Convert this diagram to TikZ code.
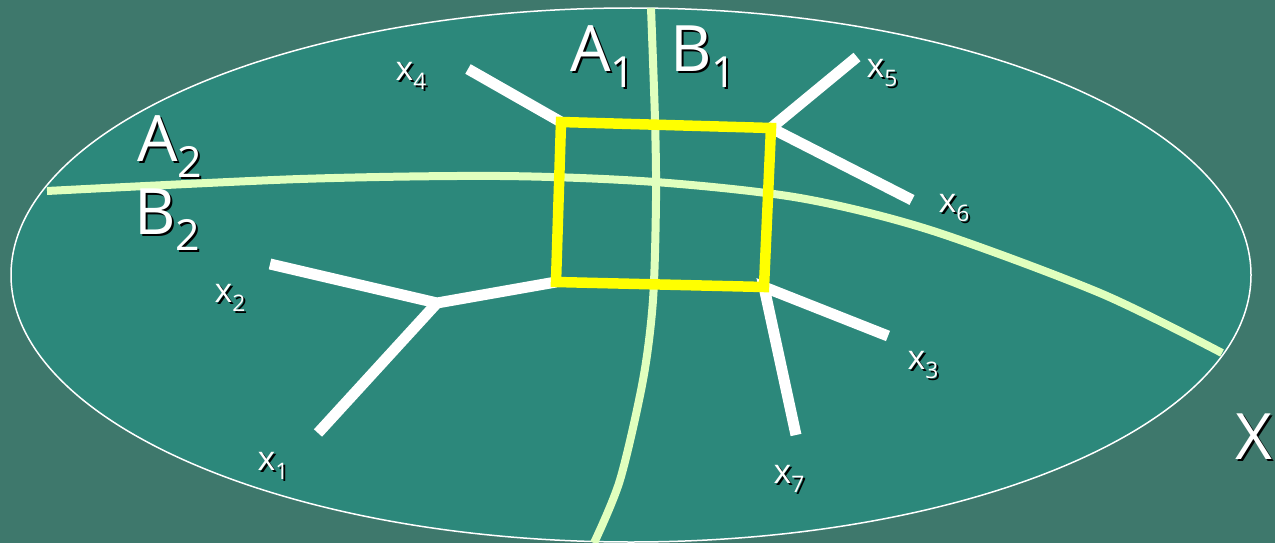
\documentclass[tikz,border=0pt]{standalone}
\usepackage{fontspec}
\setmainfont{Open Sans}
\usepackage{graphicx}
\usetikzlibrary{positioning}
\definecolor{slidebg}{RGB}{62,120,108}
\definecolor{setfill}{RGB}{44,136,123}
\definecolor{cutgreen}{RGB}{224,255,190}
\definecolor{boxyellow}{RGB}{255,255,0}
\newcommand{\sub}[1]{\raisebox{-0.25em}{\scalebox{0.67}{#1}}}

\begin{document}
\begin{tikzpicture}[x=1pt, y=-1pt,
    biglbl/.style={font=\fontsize{64}{70}\selectfont, text=white, inner sep=0pt},
    ptlbl/.style={font=\fontsize{34}{38}\selectfont, text=white, inner sep=0pt},
    shade/.style={text=black, xshift=2pt, yshift=-2pt},
    cut/.style={cutgreen, line width=8pt},
    arm/.style={white, line width=11pt}]
      \useasboundingbox (0,0) rectangle (1275,543);
      \fill[slidebg] (0,0) rectangle (1275,543);
      % The set X
      \filldraw[fill=setfill, draw=white, line width=1.5pt] (631,275) ellipse [x radius=620pt, y radius=267pt];
      % Cuts A1|B1 and A2|B2
      \draw[cut] plot[smooth] coordinates {(651,8) (655,120) (656,200) (653,300) (643,380) (620,480) (594,543)};
      \draw[cut] plot[smooth] coordinates {(47,191) (300,179) (500,176) (655,182) (800,198) (930,230) (1100,293) (1222,353)};
      % Corners of the box
      \coordinate (ytl) at (561,122);
      \coordinate (ytr) at (771,128);
      \coordinate (ybr) at (764,287);
      \coordinate (ybl) at (556,282);
      \coordinate (fork) at (437,303);
      % Ends of the arms
      \coordinate (e1) at (318,433);
      \coordinate (e2) at (270,264);
      \coordinate (e3) at (888,336);
      \coordinate (e4) at (468,69);
      \coordinate (e5) at (857,57);
      \coordinate (e6) at (912,200);
      \coordinate (e7) at (796,435);
      \draw[arm] (e4) -- (ytl);
      \draw[arm] (e5) -- (ytr) -- (e6);
      \draw[arm] (e3) -- (ybr) -- (e7);
      \draw[arm] (e2) -- (fork) -- (ybl);
      \draw[arm] (fork) -- (e1);
      \draw[boxyellow, line width=10.5pt] (ytl) -- (ytr) -- (ybr) -- (ybl) -- cycle;
      % Point labels
      \foreach \n/\x/\y in {1/273/466, 2/230/298, 3/923/365, 4/411/76, 5/882/73, 6/954/208, 7/789/479}{
        \node[ptlbl, shade] at (\x,\y) {x\sub{\n}};
        \node[ptlbl] (x\n) at (\x,\y) {x\sub{\n}};
      }
      % Region labels
      \foreach \nm/\t/\x/\y in {a1/A\sub{1}/603/57, b1/B\sub{1}/703/57, a2/A\sub{2}/170/147, b2/B\sub{2}/167/220, setx/X/1254/437}{
        \node[biglbl, shade] at (\x,\y) {\t};
        \node[biglbl] (\nm) at (\x,\y) {\t};
      }
\end{tikzpicture}
\end{document}
